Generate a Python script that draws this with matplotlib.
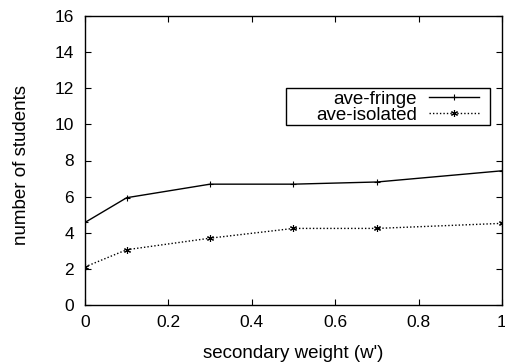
import matplotlib
matplotlib.use("Agg")
import matplotlib.pyplot as plt
from matplotlib.patches import Rectangle
from matplotlib.ticker import FixedLocator, FixedFormatter

plt.rcParams['font.family'] = ['Liberation Sans', 'DejaVu Sans']

weights = [0, 0.1, 0.3, 0.5, 0.7, 1.0]
ave_fringe = [4.57, 5.94, 6.69, 6.69, 6.81, 7.43]
ave_isolated = [2.11, 3.06, 3.70, 4.24, 4.24, 4.52]
xticks = [0, 0.2, 0.4, 0.6, 0.8, 1]
xtick_labels = ["0", "0.2", "0.4", "0.6", "0.8", "1"]
yticks = [0, 2, 4, 6, 8, 10, 12, 14, 16]
ytick_labels = ["0", "2", "4", "6", "8", "10", "12", "14", "16"]

fig = plt.figure(figsize=(5.06, 3.62), dpi=100)
ax = fig.add_axes([85/506, 57/362, 417/506, 289/362])

ax.plot(weights, ave_fringe, color='black', lw=1.0, marker='+', ms=5, mew=0.8,
        label='ave-fringe')
ax.plot(weights, ave_isolated, color='black', lw=1.0, ls=(0, (1, 1.5)),
        marker=(6, 2, 0), ms=5, mew=0.8, label='ave-isolated')

ax.set_xlim(0, 1)
ax.set_ylim(0, 16)
ax.xaxis.set_major_locator(FixedLocator(xticks))
ax.xaxis.set_major_formatter(FixedFormatter(xtick_labels))
ax.yaxis.set_major_locator(FixedLocator(yticks))
ax.yaxis.set_major_formatter(FixedFormatter(ytick_labels))
ax.tick_params(direction='in', top=True, right=True, length=4, width=0.8,
               labelsize=12.5)
ax.tick_params(axis='x', pad=7)
ax.tick_params(axis='y', pad=8)
for s in ax.spines.values():
    s.set_linewidth(1.0)

ax.set_xlabel("secondary weight (w')", fontsize=13.5)
ax.set_ylabel("number of students", fontsize=13.5)
ax.xaxis.set_label_coords(0.5, -0.138)
ax.yaxis.set_label_coords(-0.132, 0.484)

leg = ax.legend(loc='upper right', bbox_to_anchor=(0.945, 0.742),
                markerfirst=False, frameon=False, fontsize=13.5, borderpad=0,
                labelspacing=-0.05, handlelength=2.67, handletextpad=0.64,
                borderaxespad=0)
for t in leg.get_texts():
    t.set_ha('right')
ax.add_patch(Rectangle((0.482, 0.623), 0.489, 0.128, transform=ax.transAxes,
                       fill=False, edgecolor='black', lw=1.0, zorder=5))

fig.savefig('out.png', dpi=100)
